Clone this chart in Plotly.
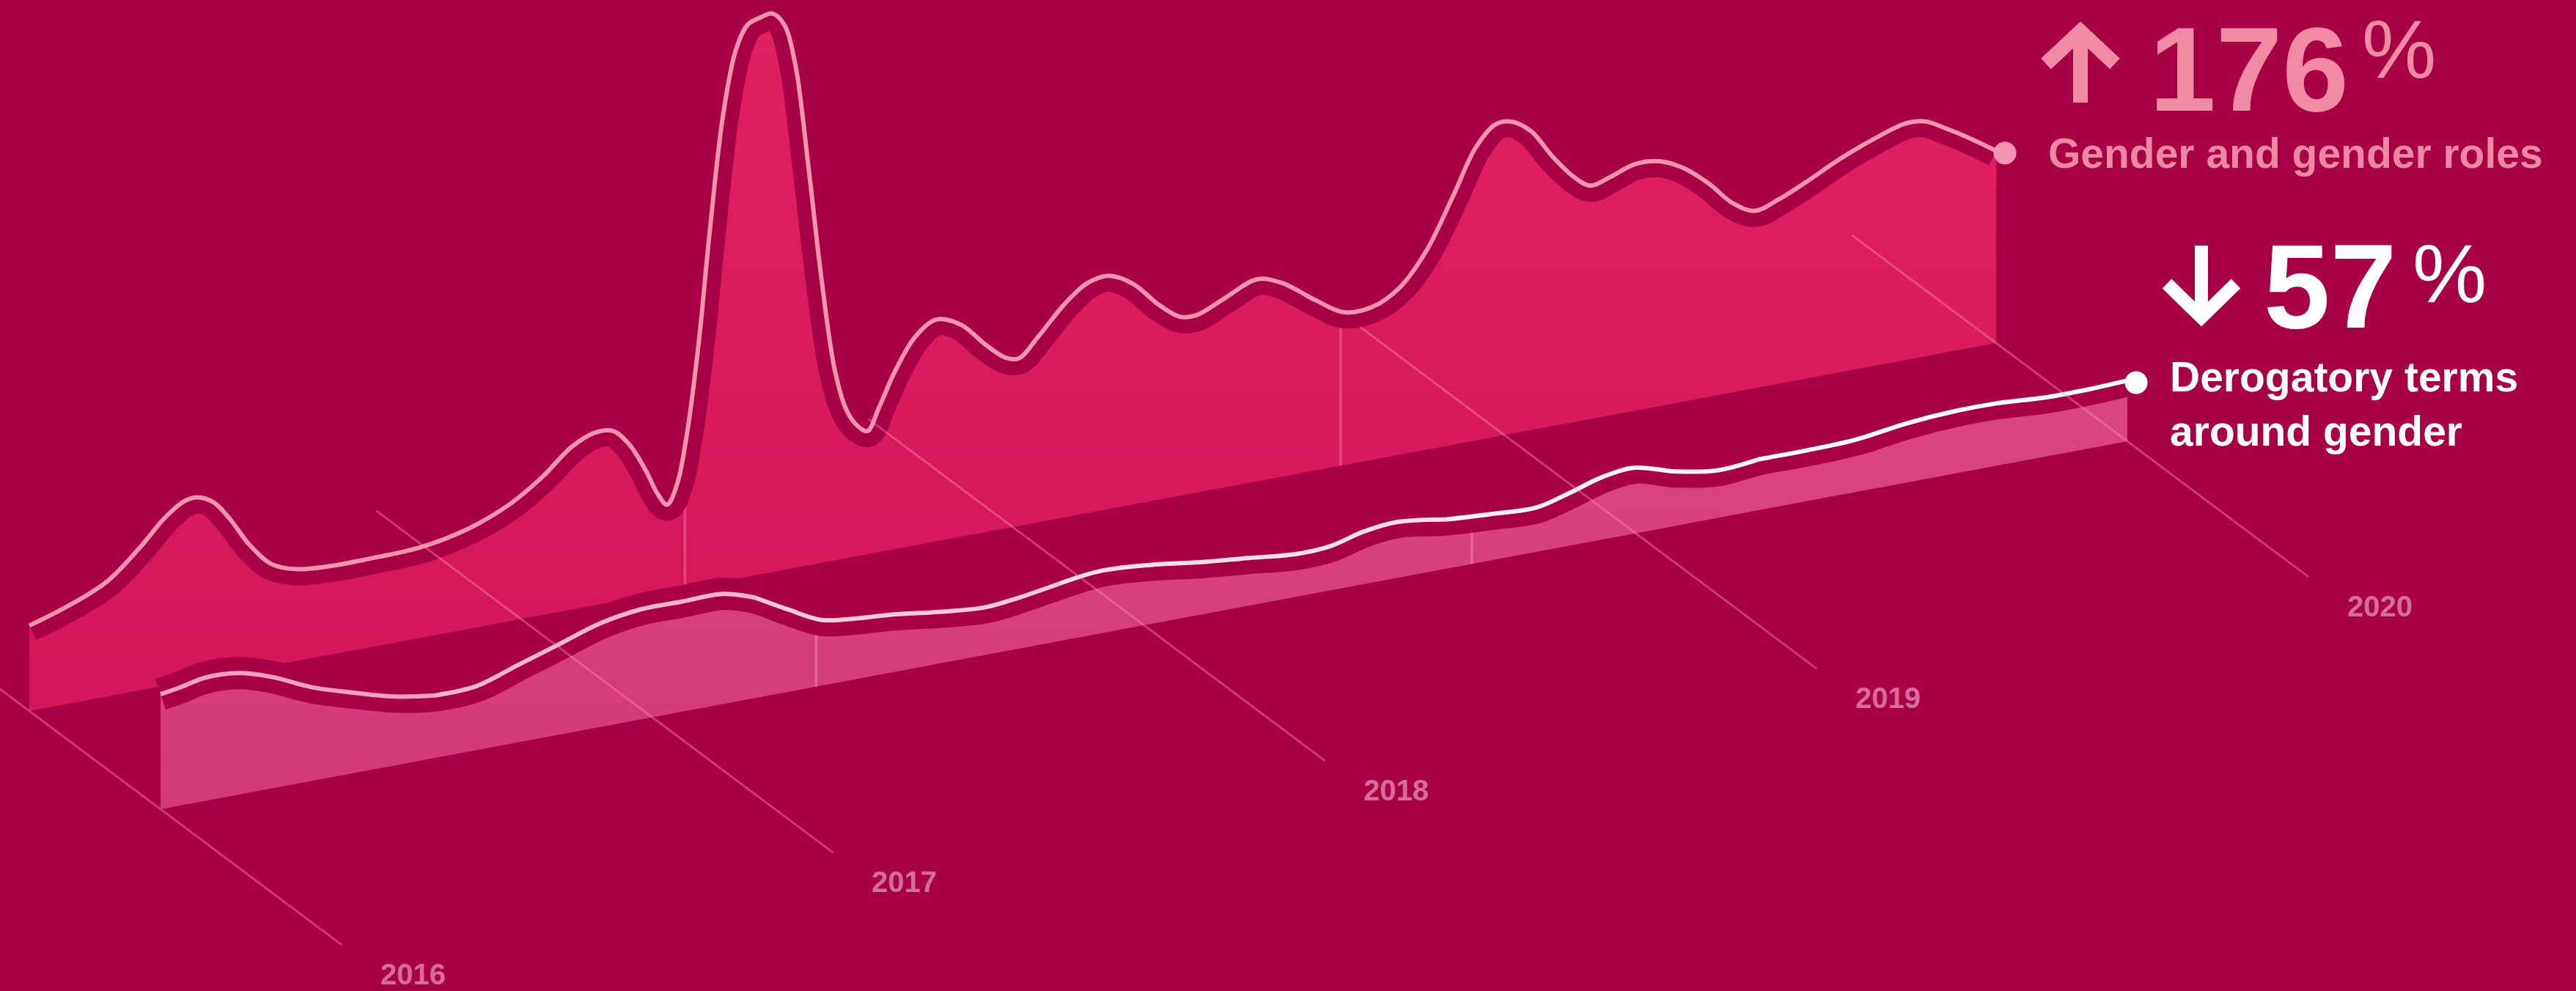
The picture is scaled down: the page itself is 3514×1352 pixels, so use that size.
import numpy as np
import plotly.graph_objects as go

# ---------------- data ----------------
YEARS = [2016, 2017, 2018, 2019, 2020]
YEAR_LABELS = ["2016", "2017", "2018", "2019", "2020"]

# "Gender and gender roles" (back lane)
GENDER_T = [2016.000, 2016.074, 2016.158, 2016.225, 2016.275, 2016.315, 2016.341, 2016.375, 2016.408, 2016.448,
            2016.492, 2016.542, 2016.609, 2016.692, 2016.793, 2016.893, 2016.976, 2017.043, 2017.103, 2017.150,
            2017.187, 2017.220, 2017.254, 2017.277, 2017.297, 2017.317, 2017.337, 2017.361, 2017.384, 2017.411,
            2017.437, 2017.461, 2017.488, 2017.511, 2017.535, 2017.558, 2017.584, 2017.611, 2017.638, 2017.662,
            2017.685, 2017.705, 2017.728, 2017.762, 2017.802, 2017.845, 2017.895, 2017.945, 2017.985, 2018.012,
            2018.052, 2018.106, 2018.152, 2018.196, 2018.246, 2018.296, 2018.340, 2018.373, 2018.430, 2018.497,
            2018.547, 2018.614, 2018.674, 2018.731, 2018.788, 2018.841, 2018.895, 2018.941, 2018.981, 2019.014,
            2019.054, 2019.098, 2019.142, 2019.175, 2019.215, 2019.265, 2019.315, 2019.365, 2019.415, 2019.465,
            2019.509, 2019.556, 2019.616, 2019.683, 2019.750, 2019.816, 2019.856, 2019.900, 2019.950, 2020.000]
GENDER_V = [52, 59, 70, 87, 102, 110, 111, 106, 94, 76,
            62, 56, 54, 54, 55, 61, 71, 84, 99, 105,
            104, 94, 76, 61, 53, 64, 93, 147, 215, 284,
            322, 336, 339, 340, 332, 306, 244, 173, 116, 90,
            79, 75, 88, 109, 127, 135, 129, 114, 104, 102,
            113, 130, 140, 142, 134, 119, 109, 108, 115, 123,
            118, 104, 93, 93, 102, 121, 151, 178, 190, 190,
            182, 164, 149, 142, 145, 150, 149, 142, 130, 115,
            108, 112, 120, 130, 138, 144, 143, 136, 127, 117]

# "Derogatory terms around gender" (front lane)
DEROG_T = [2016.000, 2016.041, 2016.091, 2016.158, 2016.225, 2016.308, 2016.392, 2016.475, 2016.559, 2016.643,
           2016.726, 2016.810, 2016.893, 2016.977, 2017.060, 2017.144, 2017.210, 2017.277, 2017.344, 2017.411,
           2017.494, 2017.595, 2017.678, 2017.745, 2017.829, 2017.912, 2018.013, 2018.113, 2018.213, 2018.313,
           2018.380, 2018.447, 2018.514, 2018.614, 2018.714, 2018.798, 2018.865, 2018.932, 2018.998, 2019.082,
           2019.166, 2019.249, 2019.350, 2019.450, 2019.550, 2019.650, 2019.733, 2019.833, 2019.917, 2020.000]
DEROG_V = [70, 72, 75, 74, 68, 57, 49, 42, 38, 39,
           47, 55, 63, 67, 67, 67, 61, 50, 40, 37,
           35, 31, 29, 31, 35, 38, 36, 32, 29, 26,
           27, 32, 34, 30, 28, 27, 32, 38, 40, 33,
           29, 31, 31, 32, 36, 38, 38, 36, 36, 37]

SERIES_NAMES = ["Gender and gender roles", "Derogatory terms<br>around gender"]
CHANGE_VALUES = ["176", "57"]
DIVIDER_T = [2016 + 4 / 3, 2016 + 8 / 3]

# ---------------- layout / projection ----------------
W, H = 3514, 1352
BG = "#a80044"
ORIGIN = (40.0, 970.0)      # pixel of (2016, 0) on back lane
T_VEC = (670.75, -125.5)    # pixels per year along the time axis
D_VEC = (179.0, 134.0)      # pixels per lane (depth)
V_PX = 2.241                # pixels per value unit
T0 = 2016.0


def proj(t, v, lane):
    t = np.asarray(t, dtype=float)
    v = np.asarray(v, dtype=float)
    x = ORIGIN[0] + (t - T0) * T_VEC[0] + lane * D_VEC[0]
    y = ORIGIN[1] + (t - T0) * T_VEC[1] + lane * D_VEC[1] - v * V_PX
    return x, y


fig = go.Figure()


def add_series(T, V, lane, fill_top, fill_bot, line_colors, divider_color, dot_color):
    t0, t1 = T[0], T[-1]
    bx, by = proj([t0, t1], [0, 0], lane)
    fig.add_trace(go.Scatter(x=bx, y=by, mode="lines", line=dict(width=0, color=BG),
                             hoverinfo="skip", showlegend=False))
    x, y = proj(T, V, lane)
    fig.add_trace(go.Scatter(x=x, y=y, mode="lines", line=dict(width=0, shape="spline", color=BG),
                             fill="tonexty",
                             fillgradient=dict(type="vertical",
                                               start=float(np.min(y)), stop=float(np.max(by)),
                                               colorscale=[[0, fill_top], [1, fill_bot]]),
                             hoverinfo="skip", showlegend=False))
    # faint vertical dividers inside the area
    dxs, dys = [], []
    for td in DIVIDER_T:
        vt = float(np.interp(td, T, V))
        px, py = proj([td, td], [0, vt], lane)
        dxs += list(px) + [None]
        dys += list(py) + [None]
    fig.add_trace(go.Scatter(x=dxs, y=dys, mode="lines", line=dict(width=4, color=divider_color),
                             hoverinfo="skip", showlegend=False))
    # dark band under the light line
    fig.add_trace(go.Scatter(x=x, y=y, mode="lines", line=dict(width=44, shape="spline", color=BG),
                             hoverinfo="skip", showlegend=False))
    # light line (split into colour segments for a gradient)
    n = len(T)
    k = len(line_colors)
    edges = np.linspace(0, n - 1, k + 1).round().astype(int)
    for i in range(k):
        a, b = edges[i], edges[i + 1]
        fig.add_trace(go.Scatter(x=x[a:b + 1], y=y[a:b + 1], mode="lines",
                                 line=dict(width=6, shape="spline", color=line_colors[i]),
                                 hoverinfo="skip", showlegend=False))
    fig.add_trace(go.Scatter(x=[x[-1] + 12], y=[y[-1] + 3], mode="markers",
                             marker=dict(size=31, color=dot_color, line=dict(width=0)),
                             hoverinfo="skip", showlegend=False))


add_series(GENDER_T, GENDER_V, 0, "#e02062", "#d4165a", ["#f293b0"],
           "rgba(255,140,180,0.35)", "#f293b0")
add_series(DEROG_T, DEROG_V, 1, "#da4584", "#d23a76",
           ["#f5a0c0", "#f8b4cc", "#fbc9da", "#fddde8", "#fff0f5", "#ffffff"],
           "rgba(255,160,200,0.35)", "#ffffff")

# year grid lines
GRID_START, GRID_END = -1.1, 2.38
gx, gy = [], []
for yr in YEARS:
    sx, sy = proj(yr, 0, GRID_START)
    ex, ey = proj(yr, 0, GRID_END)
    gx += [float(sx), float(ex), None]
    gy += [float(sy), float(ey), None]
fig.add_trace(go.Scatter(x=gx, y=gy, mode="lines", line=dict(width=3, color="rgba(255,150,190,0.38)"),
                         hoverinfo="skip", showlegend=False))

FONT = "Liberation Sans, Arial, sans-serif"
ann = []
for yr, lab in zip(YEARS, YEAR_LABELS):
    ex, ey = proj(yr, 0, GRID_END)
    ann.append(dict(x=float(ex) + 97, y=float(ey) + 40, text=lab, showarrow=False,
                    xanchor="center", yanchor="middle",
                    font=dict(family=FONT, size=40, color="#d66c98", weight=700)))

PINK_TXT = "#f08aa5"
# Gender headline
ann.append(dict(x=3068, y=1, text=CHANGE_VALUES[0], showarrow=False, xanchor="center", yanchor="top",
                font=dict(family=FONT, size=163, color=PINK_TXT, weight=700)))
ann.append(dict(x=3272, y=1, text="%", showarrow=False, xanchor="center", yanchor="top",
                font=dict(family=FONT, size=114, color=PINK_TXT, weight=400)))
ann.append(dict(x=2792, y=209, text=SERIES_NAMES[0], showarrow=False, xanchor="left", yanchor="middle",
                font=dict(family=FONT, size=57, color="#ee87a4", weight=700)))
# Derogatory headline
ann.append(dict(x=3178, y=390, text=CHANGE_VALUES[1], showarrow=False, xanchor="center", yanchor="middle",
                font=dict(family=FONT, size=163, color="#ffffff", weight=700)))
ann.append(dict(x=3341, y=372, text="%", showarrow=False, xanchor="center", yanchor="middle",
                font=dict(family=FONT, size=114, color="#ffffff", weight=400)))
ann.append(dict(x=2958, y=551, text=SERIES_NAMES[1], showarrow=False, xanchor="left", yanchor="middle",
                align="left", font=dict(family=FONT, size=57, color="#ffffff", weight=700)))

# direction arrows (icons)
shapes = [
    dict(type="path", xref="x", yref="y",
         path="M 2791,87 L 2838,43 L 2885,87 M 2838,43 L 2838,140",
         line=dict(color=PINK_TXT, width=20)),
    dict(type="path", xref="x", yref="y",
         path="M 2956,387 L 3003,433 L 3050,387 M 3003,433 L 3003,335",
         line=dict(color="#ffffff", width=18)),
]

fig.update_layout(
    width=W, height=H, autosize=False,
    margin=dict(l=0, r=0, t=0, b=0, pad=0),
    paper_bgcolor=BG, plot_bgcolor=BG,
    showlegend=False,
    xaxis=dict(range=[0, W], visible=False, fixedrange=True),
    yaxis=dict(range=[H, 0], visible=False, fixedrange=True),
    annotations=ann,
    shapes=shapes,
)

fig.write_html("out.html", config={"displayModeBar": False, "staticPlot": True},
               post_script="document.body.style.margin='0';document.body.style.background='%s';" % BG)
